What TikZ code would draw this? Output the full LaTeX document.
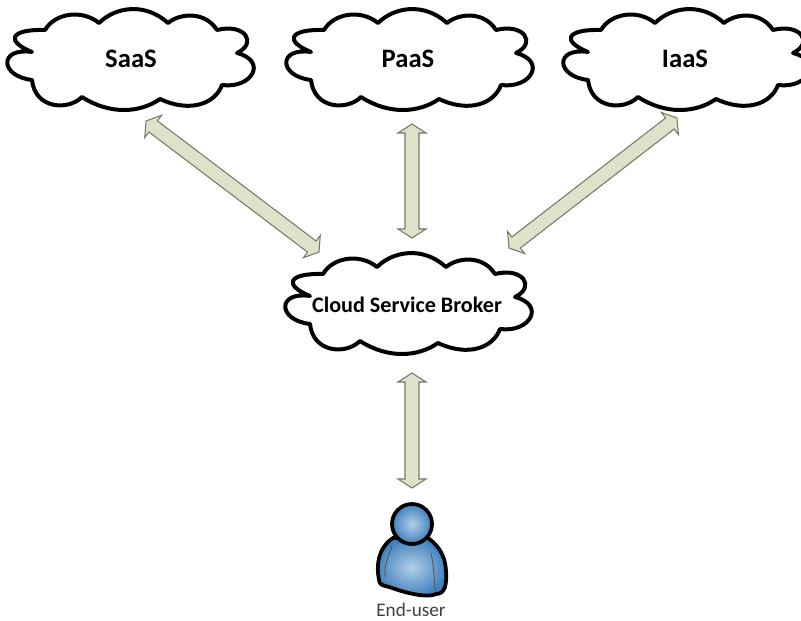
\documentclass[tikz,border=0pt]{standalone}
\usepackage{fontspec}
\setmainfont{Carlito}
\usetikzlibrary{calc}
\definecolor{arrowfill}{HTML}{DDE2C9}
\definecolor{arrowedge}{HTML}{77796B}
\definecolor{skinin}{HTML}{B4CFE8}
\definecolor{skinout}{HTML}{3F80BD}
\tikzset{
  cloudline/.style={line width=3pt,line join=round,fill=white},
  cloudtext/.style={font=\fontsize{20}{24}\selectfont\bfseries},
  blockarrow/.style={draw=arrowedge,fill=arrowfill,line width=0.8pt,line join=miter},
  personline/.style={line width=2.8pt,draw=black,inner color=skinin,outer color=skinout},
  pics/cloudshape/.style={code={
    \draw[cloudline] (-98,-7) .. controls (-131,-12) and (-131,17) .. (-98,21)
      .. controls (-95,50) and (-62,52) .. (-48,38)
      .. controls (-20,56) and (10,54) .. (30,40)
      .. controls (60,54) and (85,45) .. (92,26)
      .. controls (122,30) and (138,2) .. (107,-6)
      .. controls (128,-16) and (115,-36) .. (87,-29)
      .. controls (75,-48) and (50,-46) .. (38,-36)
      .. controls (15,-57) and (-15,-52) .. (-31,-36)
      .. controls (-48,-50) and (-75,-46) .. (-85,-29)
      .. controls (-120,-30) and (-125,-18) .. (-98,-7) -- cycle;
  }}
}
% #1 and #2 are the two tips
\newcommand{\blockarrow}[2]{
  \draw[blockarrow] (#1)
    -- ($(#1)!6.75pt!(#2)!10.5pt!90:(#2)$) -- ($(#1)!6.75pt!(#2)!5.25pt!90:(#2)$)
    -- ($(#2)!6.75pt!(#1)!5.25pt!-90:(#1)$) -- ($(#2)!6.75pt!(#1)!10.5pt!-90:(#1)$)
    -- (#2)
    -- ($(#2)!6.75pt!(#1)!10.5pt!90:(#1)$) -- ($(#2)!6.75pt!(#1)!5.25pt!90:(#1)$)
    -- ($(#1)!6.75pt!(#2)!5.25pt!-90:(#2)$) -- ($(#1)!6.75pt!(#2)!10.5pt!-90:(#2)$) -- cycle;
}
\begin{document}
\begin{tikzpicture}[x=0.75pt,y=-0.75pt]
  \useasboundingbox (0,0) rectangle (801,621);

  % the four clouds
  \pic at (130,59) {cloudshape};
  \pic at (409,59) {cloudshape};
  \pic at (686,59) {cloudshape};
  \pic at (408,303) {cloudshape};
  \node[cloudtext] (saas) at (131,59) {SaaS};
  \node[cloudtext] (paas) at (408,59) {PaaS};
  \node[cloudtext] (iaas) at (685,59) {IaaS};
  \node[cloudtext,font=\fontsize{16.6}{20}\selectfont\bfseries] (broker) at (407,305) {Cloud Service Broker};

  % ends of the arrows
  \coordinate (saastip) at (146,121);
  \coordinate (brokersaas) at (319,252);
  \coordinate (paastip) at (412,124);
  \coordinate (brokerpaas) at (412,238);
  \coordinate (iaastip) at (677,118);
  \coordinate (brokeriaas) at (509,248);
  \coordinate (brokeruser) at (412,373);
  \coordinate (usertip) at (412,488);
  \blockarrow{saastip}{brokersaas}
  \blockarrow{paastip}{brokerpaas}
  \blockarrow{iaastip}{brokeriaas}
  \blockarrow{brokeruser}{usertip}

  % the person
  \draw[personline] (393,538) .. controls (378,548) and (376,565) .. (379,580)
    .. controls (380,587) and (385,585) .. (392,588)
    .. controls (415,596) and (430,597) .. (436,594)
    .. controls (445,594) and (447,585) .. (446,570)
    .. controls (445,555) and (438,545) .. (428,538) -- cycle;
  \draw[gray!70!black,line width=0.7pt] (392,546) .. controls (388,558) and (384,565) .. (385,577);
  \draw[gray!70!black,line width=0.7pt] (431,553) .. controls (434,565) and (434,578) .. (435,591);
  \draw[personline] (412,524) circle (20);
  \node[inner sep=0pt,font=\fontsize{14.4}{16}\selectfont,text=black!75] (enduser) at (411,610) {End-user};
\end{tikzpicture}
\end{document}
